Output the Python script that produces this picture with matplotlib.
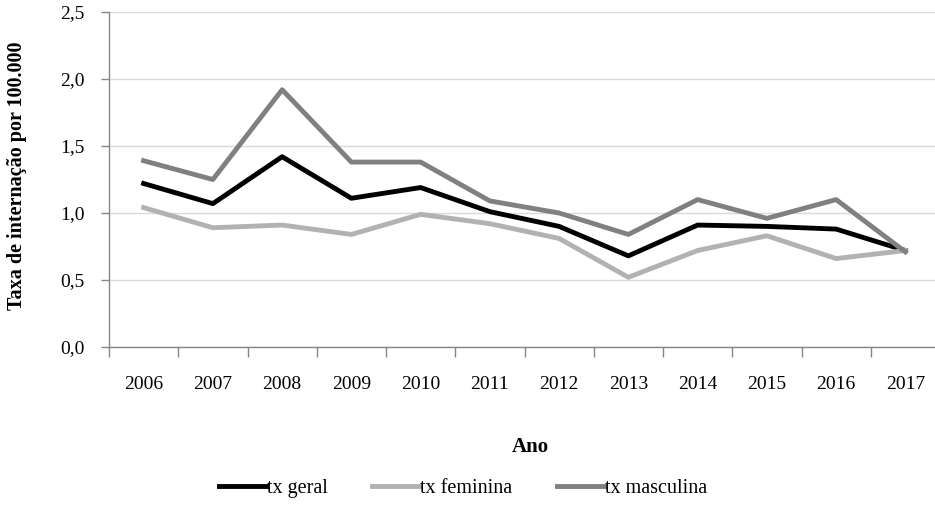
import matplotlib.pyplot as plt
from matplotlib.ticker import FixedLocator

plt.rcParams['font.family'] = ['Liberation Serif', 'DejaVu Serif']

anos = ['2006', '2007', '2008', '2009', '2010', '2011',
        '2012', '2013', '2014', '2015', '2016', '2017']
tx_geral = [1.22, 1.07, 1.42, 1.11, 1.19, 1.01, 0.90, 0.68, 0.91, 0.90, 0.88, 0.72]
tx_feminina = [1.04, 0.89, 0.91, 0.84, 0.99, 0.92, 0.81, 0.52, 0.72, 0.83, 0.66, 0.72]
tx_masculina = [1.39, 1.25, 1.92, 1.38, 1.38, 1.09, 1.00, 0.84, 1.10, 0.96, 1.10, 0.71]
y_ticks = [0.0, 0.5, 1.0, 1.5, 2.0, 2.5]
y_labels = ['0,0', '0,5', '1,0', '1,5', '2,0', '2,5']

fig = plt.figure(figsize=(9.35, 5.18), dpi=100)
# right edge of the axes goes a bit past the figure, like the original crop
ax = fig.add_axes([109 / 935, 171 / 518, 831 / 935, 335 / 518])

x = list(range(len(anos)))
ax.plot(x, tx_geral, color='black', linewidth=3.5, label='tx geral')
ax.plot(x, tx_feminina, color='#b2b2b2', linewidth=3.5, label='tx feminina')
ax.plot(x, tx_masculina, color='#808080', linewidth=3.5, label='tx masculina')

ax.set_xlim(-0.5, len(anos) - 0.5)
ax.set_ylim(0, 2.5)

ax.set_xticks(x)
ax.set_xticklabels(anos, fontsize=14)
ax.xaxis.set_minor_locator(FixedLocator([i - 0.5 for i in range(len(anos) + 1)]))
ax.tick_params(axis='x', which='major', length=0, pad=21)
ax.tick_params(axis='x', which='minor', length=7.5, color='#868686', width=1)

ax.set_yticks(y_ticks)
ax.set_yticklabels(y_labels, fontsize=14)
ax.tick_params(axis='y', length=5.5, color='#868686', width=1, pad=12)

ax.grid(axis='y', color='#d9d9d9', linewidth=1)
ax.set_axisbelow(True)

for side in ['top', 'right']:
    ax.spines[side].set_visible(False)
for side in ['left', 'bottom']:
    ax.spines[side].set_color('#868686')
    ax.spines[side].set_linewidth(1)

ax.set_ylabel('Taxa de internação por 100.000', fontsize=14.5, fontweight='bold')
ax.yaxis.set_label_coords(-0.099, 0.51)
fig.text(530 / 935, 1 - 447 / 518, 'Ano', fontsize=15, fontweight='bold',
         ha='center', va='center')

fig.legend(loc='center', bbox_to_anchor=(463 / 935, 1 - 488 / 518), ncol=3,
           frameon=False, fontsize=14.5, handlelength=2.4, handletextpad=0.0,
           columnspacing=2.2)

fig.savefig('out.png', dpi=100)
